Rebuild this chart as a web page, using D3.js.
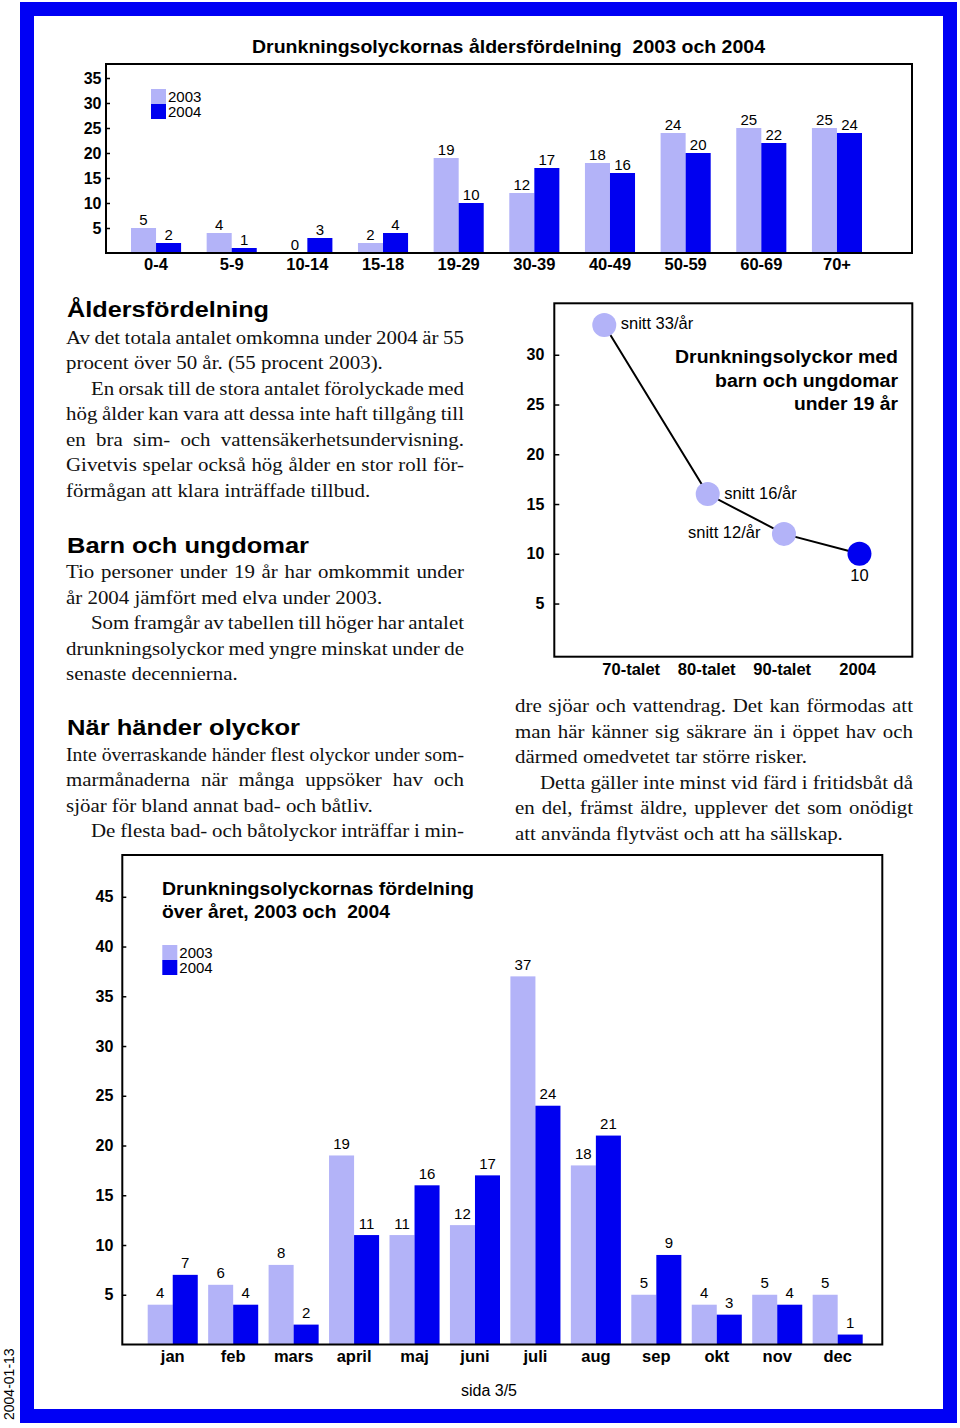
<!DOCTYPE html>
<html><head><meta charset="utf-8">
<script src="https://cdn.jsdelivr.net/npm/d3@7"></script>
<style>body{margin:0;background:#fff} svg{display:block} .pre{white-space:pre}</style>
</head><body>
<svg id="c" width="960" height="1428"></svg>
<script>
// ---------- data ----------
const years = ["2003", "2004"];
const ageGroups = ["0-4","5-9","10-14","15-18","19-29","30-39","40-49","50-59","60-69","70+"];
const age2003 = [5,4,0,2,19,12,18,24,25,25];
const age2004 = [2,1,3,4,10,17,16,20,22,24];
const ageTicks = [5,10,15,20,25,30,35];

const months = ["jan","feb","mars","april","maj","juni","juli","aug","sep","okt","nov","dec"];
const month2003 = [4,6,8,19,11,12,37,18,5,4,5,5];
const month2004 = [7,4,2,11,16,17,24,21,9,3,4,1];
const monthTicks = [5,10,15,20,25,30,35,40,45];

const periods = ["70-talet","80-talet","90-talet","2004"];
const youthValues = [33,16,12,10];
const youthPos = [0.65,2.02,3.03,4.03];           // position of each point along the period axis
const youthLabels = ["snitt 33/år","snitt 16/år","snitt 12/år","10"];
const youthLabelSide = ["right","right","left","below"];
const youthYear = ["2003","2003","2003","2004"];  // colour group of each point
const youthTicks = [5,10,15,20,25,30];

const colors = {"2003": "#b3b3f8", "2004": "#0000f0"};

// ---------- text ----------
const SANS = '"Liberation Sans", Arial, Helvetica, sans-serif';
const SERIF = '"Liberation Serif", "Times New Roman", serif';
const S = 1.1; // horizontal stretch of the body type

const leftBlocks = [
  {h: "Åldersfördelning", hy: 317, hw: 202, lines: [
    {t:"Av det totala antalet omkomna under 2004 är 55", y:344, j:1},
    {t:"procent över 50 år. (55 procent 2003).", y:369.5},
    {t:"En orsak till de stora antalet förolyckade med", y:395, j:1, i:25},
    {t:"hög ålder kan vara att dessa inte haft tillgång till", y:420.5, j:1},
    {t:"en bra sim- och vattensäkerhetsundervisning.", y:446, j:1},
    {t:"Givetvis spelar också hög ålder en stor roll för-", y:471.5, j:1},
    {t:"förmågan att klara inträffade tillbud.", y:497}
  ]},
  {h: "Barn och ungdomar", hy: 553, hw: 242, lines: [
    {t:"Tio personer under 19 år har omkommit under", y:578.5, j:1},
    {t:"år 2004 jämfört med elva under 2003.", y:604},
    {t:"Som framgår av tabellen till höger har antalet", y:629.5, j:1, i:25},
    {t:"drunkningsolyckor med yngre minskat under de", y:655, j:1},
    {t:"senaste decennierna.", y:680.5}
  ]},
  {h: "När händer olyckor", hy: 735, hw: 233, lines: [
    {t:"Inte överraskande händer flest olyckor under som-", y:761, j:1},
    {t:"marmånaderna när många uppsöker hav och", y:786.5, j:1},
    {t:"sjöar för bland annat bad- och båtliv.", y:812},
    {t:"De flesta bad- och båtolyckor inträffar i min-", y:837.5, j:1, i:25}
  ]}
];
const rightLines = [
  {t:"dre sjöar och vattendrag. Det kan förmodas att", y:712.5, j:1},
  {t:"man här känner sig säkrare än i öppet hav och", y:738, j:1},
  {t:"därmed omedvetet tar större risker.", y:763.5},
  {t:"Detta gäller inte minst vid färd i fritidsbåt då", y:789, j:1, i:25},
  {t:"en del, främst äldre, upplever det som onödigt", y:814.5, j:1},
  {t:"att använda flytväst och att ha sällskap.", y:840}
];

const svg = d3.select("#c");

// page frame
svg.append("rect").attr("x",27).attr("y",9).attr("width",923).attr("height",1407)
  .attr("fill","none").attr("stroke","#0000f5").attr("stroke-width",14);

svg.append("text").attr("transform","translate(13.5,1420) rotate(-90)")
  .attr("font-family",SANS).attr("font-size",14).text("2004-01-13");

svg.append("text").attr("x",489).attr("y",1396).attr("text-anchor","middle")
  .attr("font-family",SANS).attr("font-size",16).text("sida 3/5");

function fitText(sel, w) {
  sel.attr("textLength", w).attr("lengthAdjust", "spacingAndGlyphs");
  return sel;
}

// ---------- grouped bar chart ----------
function barChart(o) {
  const g = svg.append("g");
  const x = d3.scaleBand().domain(o.cats).range(o.xr).paddingInner(o.pi).paddingOuter(0);
  const xs = d3.scaleBand().domain(years).range([0, x.bandwidth()]);
  const y = d3.scaleLinear().domain([0, o.ymax]).range(o.yr);
  const data = o.cats.map((c, i) => ({c, vals: [{k:"2003", v:o.a[i]}, {k:"2004", v:o.b[i]}]}));
  const grp = g.selectAll("g.cat").data(data).join("g").attr("class","cat")
    .attr("transform", d => `translate(${x(d.c)},0)`);
  grp.selectAll("rect").data(d => d.vals).join("rect")
    .attr("x", d => xs(d.k)).attr("width", xs.bandwidth())
    .attr("y", d => y(d.v)).attr("height", d => y(0) - y(d.v))
    .attr("fill", d => colors[d.k]);
  grp.selectAll("text").data(d => d.vals).join("text")
    .attr("x", d => xs(d.k) + xs.bandwidth()/2).attr("y", d => y(d.v) - o.gap)
    .attr("text-anchor","middle").attr("font-family",SANS).attr("font-size",15)
    .text(d => d.v);
  // frame
  g.append("rect").attr("x", o.fx[0]).attr("y", o.yr[1]).attr("width", o.fx[1]-o.fx[0])
    .attr("height", o.yr[0]-o.yr[1]).attr("fill","none").attr("stroke","#000").attr("stroke-width",2);
  // y axis
  const ya = g.append("g").attr("transform",`translate(${o.fx[0]},0)`)
    .call(d3.axisLeft(y).tickValues(o.ticks).tickSize(-4).tickPadding(o.tp));
  ya.select(".domain").remove();
  ya.selectAll("line").attr("stroke","#000").attr("stroke-width",1.5);
  ya.selectAll("text").attr("font-family",SANS).attr("font-size",16).attr("font-weight","bold").attr("fill","#000");
  // x axis labels
  const xa = g.append("g").attr("transform",`translate(0,${y(0)})`).call(d3.axisBottom(x).tickSize(0));
  xa.select(".domain").remove();
  xa.selectAll("text").attr("y", o.xly).attr("dy", 0)
    .attr("font-family",SANS).attr("font-size",16.5).attr("font-weight","bold").attr("fill","#000");
  // legend
  const lg = g.append("g").attr("transform",`translate(${o.leg[0]},${o.leg[1]})`);
  years.forEach((k, i) => {
    lg.append("rect").attr("x",0).attr("y",i*15).attr("width",15).attr("height",15).attr("fill",colors[k]);
    lg.append("text").attr("x",17).attr("y",i*15+12.5).attr("font-family",SANS).attr("font-size",15).text(k);
  });
  // title
  o.title.forEach((t, i) => {
    fitText(g.append("text").attr("class","pre").attr("x", o.tx).attr("y", o.ty + i*23)
      .attr("font-family",SANS).attr("font-size",18.5).attr("font-weight","bold").text(t), o.tw[i]);
  });
}

barChart({
  cats: ageGroups, a: age2003, b: age2004, ticks: ageTicks,
  xr: [131, 862], pi: 0.338, ymax: 37.8, yr: [253, 64], fx: [106, 912],
  tp: 4.5, gap: 3.5, xly: 17, leg: [151, 89],
  title: ["Drunkningsolyckornas åldersfördelning  2003 och 2004"], tx: 252, ty: 52.5, tw: [513]
});

barChart({
  cats: months, a: month2003, b: month2004, ticks: monthTicks,
  xr: [147.7, 862.7], pi: 0.172, ymax: 49.2, yr: [1344.5, 855], fx: [122.3, 882.3],
  tp: 9, gap: 6.5, xly: 17.5, leg: [162.3, 945],
  title: ["Drunkningsolyckornas fördelning", "över året, 2003 och  2004"], tx: 162, ty: 894.5, tw: [312, 228]
});

// ---------- line chart ----------
(function() {
  const g = svg.append("g");
  const y = d3.scaleLinear().domain([0, 35]).range([653.3, 305]);
  const x = d3.scaleLinear().domain([1, 4]).range([630.7, 857.2]);
  g.append("rect").attr("x",554.3).attr("y",303.3).attr("width",358).attr("height",353.4)
    .attr("fill","none").attr("stroke","#000").attr("stroke-width",2);
  const ya = g.append("g").attr("transform","translate(554.3,0)")
    .call(d3.axisLeft(y).tickValues(youthTicks).tickSize(-5).tickPadding(10));
  ya.select(".domain").remove();
  ya.selectAll("line").attr("stroke","#000").attr("stroke-width",1.5);
  ya.selectAll("text").attr("font-family",SANS).attr("font-size",16).attr("font-weight","bold").attr("fill","#000");
  const xa = g.append("g").attr("transform","translate(0,656.7)")
    .call(d3.axisBottom(x).tickValues([1,2,3,4]).tickFormat(d => periods[d-1]).tickSize(0));
  xa.select(".domain").remove();
  xa.selectAll("text").attr("y", 18.5).attr("dy", 0)
    .attr("font-family",SANS).attr("font-size",16.5).attr("font-weight","bold").attr("fill","#000");
  const pts = youthValues.map((v, i) => ({v, px: youthPos[i], lab: youthLabels[i], side: youthLabelSide[i], k: youthYear[i]}));
  g.append("path").datum(pts).attr("fill","none").attr("stroke","#000").attr("stroke-width",2)
    .attr("d", d3.line().x(d => x(d.px)).y(d => y(d.v)));
  g.selectAll("circle").data(pts).join("circle")
    .attr("cx", d => x(d.px)).attr("cy", d => y(d.v)).attr("r", 12).attr("fill", d => colors[d.k]);
  g.selectAll("text.pl").data(pts).join("text").attr("class","pl")
    .attr("font-family",SANS).attr("font-size",16.5)
    .attr("x", d => x(d.px) + (d.side === "right" ? 16.5 : d.side === "left" ? -23.5 : 0))
    .attr("y", d => y(d.v) + (d.side === "below" ? 27 : 4.5))
    .attr("text-anchor", d => d.side === "right" ? "start" : d.side === "left" ? "end" : "middle")
    .text(d => d.lab);
  const tl = ["Drunkningsolyckor med", "barn och ungdomar", "under 19 år"];
  const tw = [223, 183, 104];
  tl.forEach((t, i) => {
    fitText(g.append("text").attr("x", 898 - tw[i]).attr("y", 363.3 + i*23.4)
      .attr("font-family",SANS).attr("font-size",18).attr("font-weight","bold").text(t), tw[i]);
  });
})();

// ---------- body text ----------
function textLine(l, x0, width) {
  const ind = (l.i || 0) / S;
  const avail = width / S - ind;
  const g = svg.append("g").attr("transform", `translate(${x0},0) scale(${S},1)`);
  const t = g.append("text").attr("y", l.y).attr("font-family",SERIF).attr("font-size",19).attr("fill","#111");
  if (!l.j) { t.attr("x", ind).text(l.t); return; }
  const words = l.t.split(" ");
  const spans = words.map(w => t.append("tspan").text(w));
  const widths = spans.map(s => s.node().getComputedTextLength());
  const total = d3.sum(widths);
  const gap = (avail - total) / (words.length - 1);
  if (gap < 3) {
    t.selectAll("tspan").remove();
    t.attr("x", ind).text(l.t);
    fitText(t, avail);
    return;
  }
  let cx = ind;
  spans.forEach((s, k) => { s.attr("x", cx); cx += widths[k] + gap; });
}

leftBlocks.forEach(b => {
  fitText(svg.append("text").attr("x", 67).attr("y", b.hy).attr("font-family",SANS)
    .attr("font-size",22).attr("font-weight","bold").text(b.h), b.hw);
  b.lines.forEach(l => textLine(l, 66, 398));
});
rightLines.forEach(l => textLine(l, 515, 398));
</script>
</body></html>
